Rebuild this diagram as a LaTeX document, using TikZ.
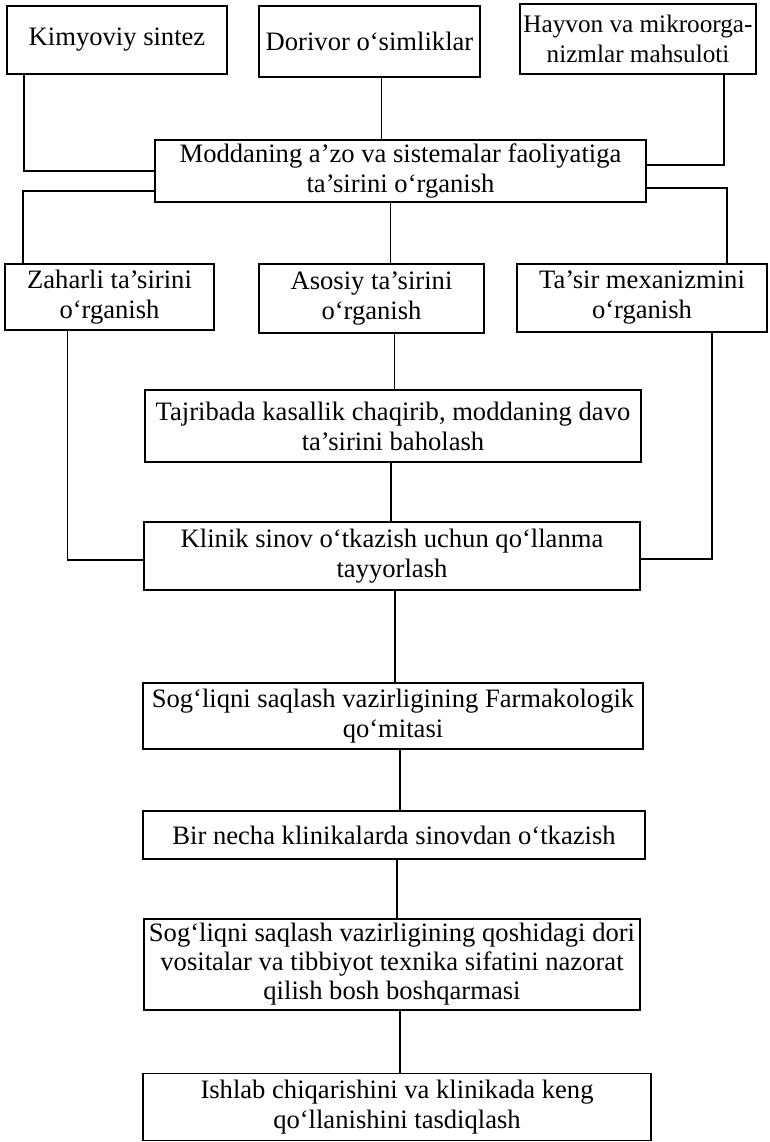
\documentclass[tikz,border=0pt]{standalone}
\usepackage{fontspec}
\setmainfont{Liberation Serif}
\usetikzlibrary{positioning,calc}
\newcommand{\matn}{\fontsize{26.6}{30}\selectfont}

\begin{document}
\begin{tikzpicture}[x=1pt,y=1pt,line width=1.9pt,
    blok/.style={draw, align=center, inner sep=1pt, outer sep=0pt, font=\matn}]
  \useasboundingbox (0,0) rectangle (770,-1142);
  % manbalar
  \node[blok, minimum width=220pt, minimum height=68pt] (kim) at (117,-40) {Kimyoviy sintez};
  \node[blok, minimum width=221pt, minimum height=71pt] (dor) at (369.5,-41.5) {Dorivor o‘simliklar};
  \node[blok, minimum width=236pt, minimum height=70pt, font=\fontsize{25.2}{30}\selectfont] (hay) at (638,-39) {Hayvon va mikroorga-\\nizmlar mahsuloti};
  \node[blok, minimum width=491pt, minimum height=62pt] (mod) at (400.5,-171) {Moddaning a’zo va sistemalar faoliyatiga\\ta’sirini o‘rganish};
  % tadqiqotlar
  \node[blok, minimum width=209pt, minimum height=66pt] (zah) at (109.5,-297) {Zaharli ta’sirini\\o‘rganish};
  \node[blok, minimum width=225pt, minimum height=69pt] (aso) at (371.5,-298.5) {Asosiy ta’sirini\\o‘rganish};
  \node[blok, minimum width=250pt, minimum height=68pt] (tas) at (642,-298) {Ta’sir mexanizmini\\o‘rganish};
  \node[blok, minimum width=496pt, minimum height=72pt] (taj) at (393,-426) {Tajribada kasallik chaqirib, moddaning davo\\ta’sirini baholash};
  \node[blok, minimum width=496pt, minimum height=68pt] (kli) at (392,-556) {Klinik sinov o‘tkazish uchun qo‘llanma\\tayyorlash};
  % tasdiqlash
  \node[blok, minimum width=500pt, minimum height=66pt] (far) at (393,-716) {Sog‘liqni saqlash vazirligining Farmakologik\\qo‘mitasi};
  \node[blok, minimum width=502pt, minimum height=48pt] (bir) at (394,-835) {Bir necha klinikalarda sinovdan o‘tkazish};
  \node[blok, minimum width=496pt, minimum height=91pt, font=\fontsize{26.6}{29}\selectfont] (qos) at (392,-964.5) {Sog‘liqni saqlash vazirligining qoshidagi dori\\vositalar va tibbiyot texnika sifatini nazorat\\qilish bosh boshqarmasi};
  \node[blok, minimum width=508pt, minimum height=67pt] (ish) at (397,-1107) {Ishlab chiqarishini va klinikada keng\\qo‘llanishini tasdiqlash};

  \draw ($(kim.south west)+(17,0)$) |- (mod.west);
  \draw ($(dor.south)+(12,0)$) -- ($(dor.south |- mod.north)+(12,0)$);
  \draw ($(hay.south east)+(-32,0)$) |- ($(mod.east)+(0,6)$);
  \draw ($(mod.west)+(0,-20)$) -| ($(zah.north west)+(18,0)$);
  \draw ($(mod.south)+(-10,0)$) -- ($(mod.south |- aso.north)+(-10,0)$);
  \draw ($(mod.east)+(0,-17)$) -| ($(tas.north west)+(210,0)$);
  \draw ($(zah.south)+(-42,0)$) |- ($(kli.west)+(0,-4)$);
  \draw ($(aso.south)+(23,0)$) -- ($(aso.south |- taj.north)+(23,0)$);
  \draw ($(tas.south)+(70,0)$) |- ($(kli.east)+(0,-3)$);
  \draw ($(taj.south)+(-2,0)$) -- ($(taj.south |- kli.north)+(-2,0)$);
  \foreach \a/\b/\dx in {kli/far/3, far/bir/7, bir/qos/3, qos/ish/8}
    \draw ($(\a.south)+(\dx,0)$) -- ($(\a.south |- \b.north)+(\dx,0)$);
\end{tikzpicture}
\end{document}
